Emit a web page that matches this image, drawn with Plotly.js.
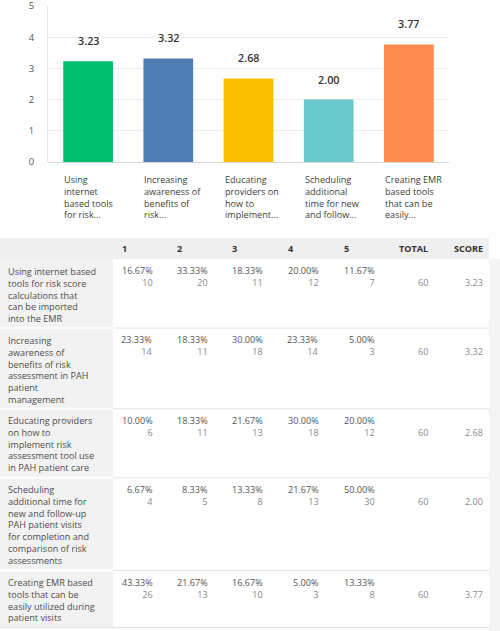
<!DOCTYPE html>
<html><head><meta charset="utf-8">
<script src="https://cdn.plot.ly/plotly-3.0.1.min.js"></script>
<style>html,body{margin:0;padding:0;background:#fff;}#chart{width:500px;height:631px;}</style>
</head><body><div id="chart"></div>
<script>
// ---------- data ----------
const chartLabels = [
  ["Using", "internet", "based tools", "for risk..."],
  ["Increasing", "awareness of", "benefits of", "risk..."],
  ["Educating", "providers on", "how to", "implement..."],
  ["Scheduling", "additional", "time for new", "and follow..."],
  ["Creating EMR", "based tools", "that can be", "easily..."]
];
const scores = [3.23, 3.32, 2.68, 2.00, 3.77];
const barColors = ["#00BF6F", "#507CB6", "#F9BE00", "#6BC8CD", "#FF8B4F"];
const yTicks = [0, 1, 2, 3, 4, 5];

const colHeaders = ["1", "2", "3", "4", "5", "TOTAL", "SCORE"];
const rowLabels = [
  ["Using internet based", "tools for risk score", "calculations that", "can be imported", "into the EMR"],
  ["Increasing", "awareness of", "benefits of risk", "assessment in PAH", "patient", "management"],
  ["Educating providers", "on how to", "implement risk", "assessment tool use", "in PAH patient care"],
  ["Scheduling", "additional time for", "new and follow-up", "PAH patient visits", "for completion and", "comparison of risk", "assessments"],
  ["Creating EMR based", "tools that can be", "easily utilized during", "patient visits"]
];
const percents = [
  [16.67, 33.33, 18.33, 20.00, 11.67],
  [23.33, 18.33, 30.00, 23.33, 5.00],
  [10.00, 18.33, 21.67, 30.00, 20.00],
  [6.67, 8.33, 13.33, 21.67, 50.00],
  [43.33, 21.67, 16.67, 5.00, 13.33]
];
const counts = [
  [10, 20, 11, 12, 7],
  [14, 11, 18, 14, 3],
  [6, 11, 13, 18, 12],
  [4, 5, 8, 13, 30],
  [26, 13, 10, 3, 8]
];
const totals = [60, 60, 60, 60, 60];

// ---------- layout helpers ----------
const W = 500, H = 631;
const px = x => x / W;
const py = y => 1 - y / H;
const FONT = "Open Sans, Noto Sans, sans-serif";
const BARGAP = 0.38;
const FS = 9.1;               // text size; <br> spacing = 1.3 * FS
const lineH = 1.3 * FS;

const annotations = [];
const shapes = [];

function addText(text, x, y, opts) {
  annotations.push(Object.assign({
    text: text, x: px(x), y: py(y), xref: "paper", yref: "paper",
    showarrow: false, yanchor: "middle", xanchor: "left", align: "left",
    borderpad: 0, borderwidth: 0,
    font: {family: FONT, size: FS, color: "#4d4d4d"}
  }, opts || {}));
}

// value labels above bars
scores.forEach((v, i) => {
  annotations.push({
    text: v.toFixed(2), x: i, y: v, xref: "x", yref: "y",
    showarrow: false, yanchor: "bottom", xanchor: "center", yshift: 11,
    font: {family: FONT, size: 10.8, color: "#333333", weight: 600}
  });
});
// category labels under bars (left aligned at bar edge)
chartLabels.forEach((lines, i) => {
  annotations.push({
    text: lines.join("<br>"), x: i - (1 - BARGAP) / 2,
    y: py(180 + (lines.length - 1) * 11.3 / 2),
    xref: "x", yref: "paper", showarrow: false, align: "left",
    xanchor: "left", yanchor: "middle", borderpad: 0,
    font: {family: FONT, size: 9.1, color: "#3d3d3d"}
  });
});

// ---------- table ----------
const colStarts = [0, 113, 168, 223, 279, 335, 390, 445];
const tableRight = 489;
const tableTop = 238, headerH = 21, rowPad = 10;
const rowTops = [];
let yCur = tableTop + headerH;
rowLabels.forEach(lines => { rowTops.push(yCur); yCur += lines.length * 11.8 + rowPad; });
const tableBottom = yCur;

// backgrounds
shapes.push({type: "rect", xref: "paper", yref: "paper", x0: px(0), x1: px(tableRight),
  y0: py(tableTop), y1: py(tableTop + headerH), fillcolor: "#efefef", line: {width: 0}, layer: "below"});
shapes.push({type: "rect", xref: "paper", yref: "paper", x0: px(0), x1: px(colStarts[1]),
  y0: py(tableTop + headerH), y1: py(tableBottom), fillcolor: "#f2f2f2", line: {width: 0}, layer: "below"});
shapes.push({type: "rect", xref: "paper", yref: "paper", x0: px(tableRight), x1: px(W),
  y0: py(tableTop + headerH), y1: py(H), fillcolor: "#f4f4f4", line: {width: 0}, layer: "below"});
// row separators
rowTops.slice(1).concat([tableBottom]).forEach((y, k, arr) => {
  const last = k === arr.length - 1;
  shapes.push({type: "line", xref: "paper", yref: "paper", x0: px(colStarts[1]), x1: px(tableRight),
    y0: py(y), y1: py(y), line: {color: "#e2e2e2", width: 1}, layer: "below"});
  shapes.push({type: "line", xref: "paper", yref: "paper", x0: px(0), x1: px(colStarts[1]),
    y0: py(y), y1: py(y), line: {color: last ? "#e2e2e2" : "#ffffff", width: last ? 1 : 2}, layer: "below"});
});

// header texts
colHeaders.forEach((h, c) => {
  addText(h, colStarts[c + 1] + 9, tableTop + headerH / 2,
    {font: {family: FONT, size: FS, color: "#333333", weight: 700}});
});
// body
rowLabels.forEach((lines, r) => {
  const top = rowTops[r];
  const first = top + 12;
  addText(lines.join("<br>"), 8, first + (lines.length - 1) * lineH / 2);
  percents[r].forEach((p, c) => {
    const right = colStarts[c + 1] + 40;
    addText(p.toFixed(2) + "%<br><span style='color:#8a8a8a'>" + counts[r][c] + "</span>",
      right, first + lineH / 2,
      {xanchor: "right", align: "right", font: {family: FONT, size: FS, color: "#555555"}});
  });
  addText(String(totals[r]), colStarts[6] + 38, first + lineH, {xanchor: "right", font: {family: FONT, size: FS, color: "#8a8a8a"}});
  addText(scores[r].toFixed(2), colStarts[7] + 38, first + lineH, {xanchor: "right", font: {family: FONT, size: FS, color: "#8a8a8a"}});
});

const trace = {
  type: "bar",
  x: scores.map((_, i) => i),
  y: scores,
  marker: {color: barColors, line: {width: 0}},
  hoverinfo: "none"
};

const layout = {
  width: W, height: H,
  margin: {l: 0, r: 0, t: 0, b: 0},
  paper_bgcolor: "#ffffff", plot_bgcolor: "#ffffff",
  showlegend: false,
  bargap: BARGAP,
  font: {family: FONT},
  xaxis: {domain: [px(48), px(449)], range: [-0.5, 4.5], showticklabels: false,
    showgrid: false, zeroline: false, showline: false, fixedrange: true},
  yaxis: {domain: [py(162), py(6)], range: [0, 5], tickvals: yTicks,
    ticks: "outside", ticklen: 11, tickcolor: "rgba(0,0,0,0)",
    ticklabeloverflow: "allow",
    tickfont: {family: FONT, size: 9.5, color: "#555555"},
    showgrid: true, gridcolor: "#ededed", gridwidth: 1,
    zeroline: true, zerolinecolor: "#d6d6d6", zerolinewidth: 1,
    showline: true, linecolor: "#e6e6e6", linewidth: 1, fixedrange: true},
  annotations: annotations,
  shapes: shapes
};

Plotly.newPlot("chart", [trace], layout, {displayModeBar: false, staticPlot: true});
</script>
</body></html>
